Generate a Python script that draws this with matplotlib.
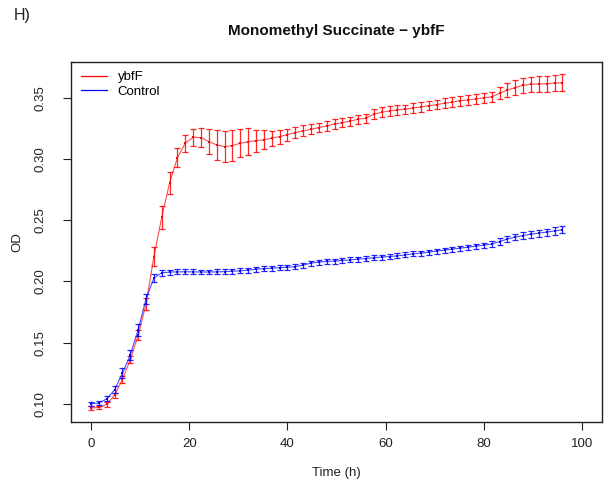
import numpy as np
import matplotlib
matplotlib.use("Agg")
import matplotlib.pyplot as plt
from matplotlib.lines import Line2D

plt.rcParams['font.family'] = ['Liberation Sans', 'DejaVu Sans']

time_h = [round(1.6 * k, 1) for k in range(61)]

ybfF = [0.0965, 0.0970, 0.0995, 0.1070, 0.1200, 0.1360, 0.1560, 0.1815, 0.2203, 0.2524,
        0.2807, 0.3012, 0.3130, 0.3179, 0.3176, 0.3143, 0.3116, 0.3102, 0.3110, 0.3130,
        0.3141, 0.3151, 0.3157, 0.3171, 0.3184, 0.3200, 0.3217, 0.3230, 0.3244, 0.3258,
        0.3271, 0.3288, 0.3298, 0.3310, 0.3326, 0.3334, 0.3367, 0.3383, 0.3394, 0.3402,
        0.3408, 0.3418, 0.3426, 0.3437, 0.3445, 0.3457, 0.3465, 0.3478, 0.3484, 0.3492,
        0.3502, 0.3508, 0.3538, 0.3565, 0.3584, 0.3604, 0.3612, 0.3614, 0.3617, 0.3620,
        0.3625]
ybfF_err = [0.0015, 0.0015, 0.0020, 0.0020, 0.0030, 0.0030, 0.0040, 0.0050, 0.0080, 0.0095,
            0.0090, 0.0075, 0.0070, 0.0070, 0.0080, 0.0105, 0.0120, 0.0127, 0.0125, 0.0115,
            0.0110, 0.0090, 0.0078, 0.0062, 0.0057, 0.0050, 0.0045, 0.0045, 0.0040, 0.0040,
            0.0040, 0.0040, 0.0038, 0.0038, 0.0038, 0.0038, 0.0040, 0.0040, 0.0038, 0.0038,
            0.0038, 0.0038, 0.0038, 0.0038, 0.0038, 0.0040, 0.0040, 0.0040, 0.0040, 0.0040,
            0.0040, 0.0042, 0.0050, 0.0055, 0.0060, 0.0062, 0.0062, 0.0064, 0.0065, 0.0066,
            0.0067]

control = [0.1000, 0.1005, 0.1040, 0.1114, 0.1250, 0.1400, 0.1605, 0.1858, 0.2027, 0.2070,
           0.2076, 0.2078, 0.2079, 0.2078, 0.2077, 0.2077, 0.2078, 0.2080, 0.2083, 0.2087,
           0.2092, 0.2100, 0.2104, 0.2108, 0.2112, 0.2116, 0.2121, 0.2133, 0.2150, 0.2158,
           0.2163, 0.2166, 0.2171, 0.2176, 0.2182, 0.2187, 0.2193, 0.2199, 0.2203, 0.2209,
           0.2217, 0.2225, 0.2231, 0.2239, 0.2248, 0.2256, 0.2264, 0.2272, 0.2280, 0.2288,
           0.2297, 0.2305, 0.2326, 0.2346, 0.2362, 0.2375, 0.2386, 0.2395, 0.2403, 0.2413,
           0.2422]
control_err = [0.0015, 0.0015, 0.0020, 0.0030, 0.0040, 0.0040, 0.0050, 0.0040, 0.0030, 0.0022,
               0.0020, 0.0020, 0.0020, 0.0020, 0.0020, 0.0020, 0.0020, 0.0020, 0.0020, 0.0020,
               0.0020, 0.0020, 0.0020, 0.0020, 0.0020, 0.0020, 0.0020, 0.0020, 0.0020, 0.0020,
               0.0020, 0.0020, 0.0020, 0.0020, 0.0020, 0.0020, 0.0020, 0.0020, 0.0020, 0.0020,
               0.0020, 0.0020, 0.0020, 0.0020, 0.0020, 0.0020, 0.0020, 0.0020, 0.0020, 0.0020,
               0.0020, 0.0022, 0.0025, 0.0025, 0.0026, 0.0027, 0.0028, 0.0028, 0.0029, 0.0030,
               0.0030]

series = [("ybfF", ybfF, ybfF_err, "#ff0000"), ("Control", control, control_err, "#0000ff")]

x_ticks = [0, 20, 40, 60, 80, 100]
y_ticks = [0.10, 0.15, 0.20, 0.25, 0.30, 0.35]

fig = plt.figure(figsize=(6.05, 4.86), dpi=100)
ax = fig.add_axes([0.118, 0.1323, 0.8766, 0.7407])

handles = []
for label, vals, errs, col in series:
    ax.errorbar(time_h, vals, yerr=errs, fmt='none', ecolor=col, elinewidth=0.9,
                capsize=2.0, capthick=0.9, alpha=0.85)
    ax.plot(time_h, vals, color=col, lw=0.8, alpha=0.7)
    ax.plot(time_h, vals, linestyle='none', marker='s', markersize=2.0,
            markeredgewidth=0, color=col)
    handles.append(Line2D([0], [0], color=col, lw=0.9))

ax.set_xlim(-4, 104)
ax.set_ylim(0.0853, 0.3796)
ax.set_xticks(x_ticks)
ax.set_xticklabels([str(v) for v in x_ticks])
ax.set_yticks(y_ticks)
ax.set_yticklabels(["%.2f" % v for v in y_ticks], rotation=90, va='center')
ax.tick_params(axis='both', direction='out', length=6, width=0.8, labelsize=9.5, colors='#222222',
               labelcolor='#222222')
ax.tick_params(axis='x', pad=6)
ax.tick_params(axis='y', pad=12)
for s in ax.spines.values():
    s.set_linewidth(1.0)
    s.set_color('#222222')

ax.set_xlabel("Time (h)", fontsize=9.5, labelpad=12, color='#222222')
ax.set_ylabel("OD", fontsize=9.5, labelpad=8, color='#222222')

fig.text(0.5 * (0.118 + 0.9946), 0.936, "Monomethyl Succinate \u2212 ybfF", ha='center', va='center',
         fontsize=11, fontweight='bold', color='#111111')
fig.text(0.022, 0.968, "H)", ha='left', va='center', fontsize=11.5, color='#222222')

ax.legend(handles, [s[0] for s in series], loc='upper left', frameon=False, fontsize=9.5,
          handlelength=2.0, borderaxespad=0.3, handletextpad=0.8, labelspacing=0.2)

fig.savefig("out.png", dpi=100)
